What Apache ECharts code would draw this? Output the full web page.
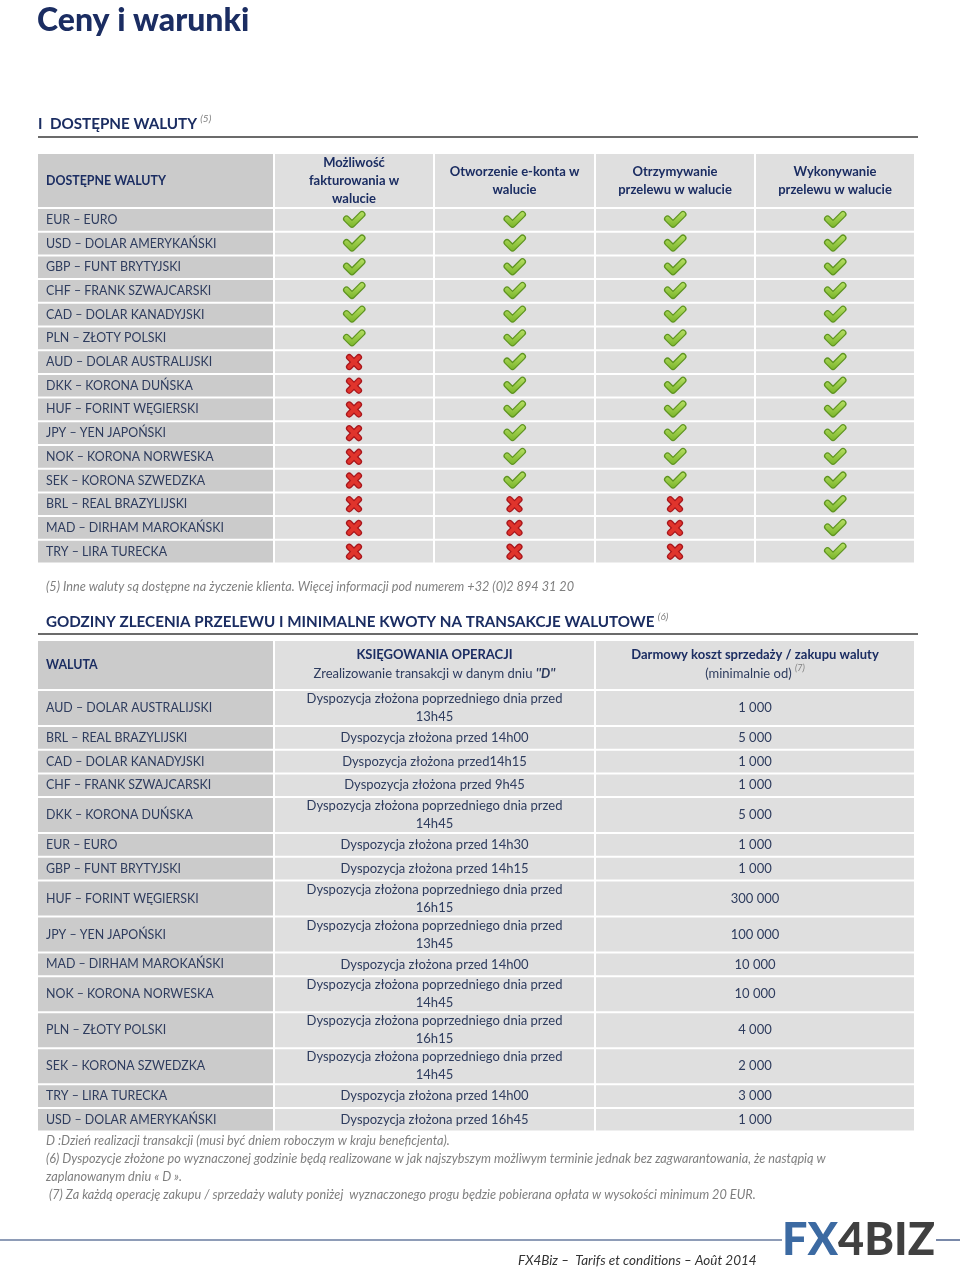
<!DOCTYPE html>
<html><head><meta charset="utf-8">
<script src="https://cdn.jsdelivr.net/npm/echarts@6.0.0/dist/echarts.min.js"></script>
<style>html,body{margin:0;padding:0;background:#fff}#c{width:960px;height:1270px}</style>
</head><body><div id="c"></div>
<script>
// ================= DATA =================
const TABLE1_HEADERS = ['DOSTĘPNE WALUTY', 'Możliwość\nfakturowania w\nwalucie', 'Otworzenie e-konta w\nwalucie', 'Otrzymywanie\nprzelewu w walucie', 'Wykonywanie\nprzelewu w walucie'];
const CURRENCIES_1 = ['EUR – EURO', 'USD – DOLAR AMERYKAŃSKI', 'GBP – FUNT BRYTYJSKI', 'CHF – FRANK SZWAJCARSKI', 'CAD – DOLAR KANADYJSKI', 'PLN – ZŁOTY POLSKI', 'AUD – DOLAR AUSTRALIJSKI', 'DKK – KORONA DUŃSKA', 'HUF – FORINT WĘGIERSKI', 'JPY – YEN JAPOŃSKI', 'NOK – KORONA NORWESKA', 'SEK – KORONA SZWEDZKA', 'BRL – REAL BRAZYLIJSKI', 'MAD – DIRHAM MAROKAŃSKI', 'TRY – LIRA TURECKA'];
const INVOICING = [1, 1, 1, 1, 1, 1, 0, 0, 0, 0, 0, 0, 0, 0, 0];
const E_ACCOUNT = [1, 1, 1, 1, 1, 1, 1, 1, 1, 1, 1, 1, 0, 0, 0];
const RECEIVING = [1, 1, 1, 1, 1, 1, 1, 1, 1, 1, 1, 1, 0, 0, 0];
const SENDING   = [1, 1, 1, 1, 1, 1, 1, 1, 1, 1, 1, 1, 1, 1, 1];

const TABLE2_TITLES = ['WALUTA', 'KSIĘGOWANIA OPERACJI', 'Darmowy koszt sprzedaży / zakupu waluty'];
const TABLE2_SUBTITLES = ['', 'Zrealizowanie transakcji w danym dniu ', '(minimalnie od) '];
const TABLE2_MARKS = ['', "''D''", '(7)'];
const CURRENCIES_2 = ['AUD – DOLAR AUSTRALIJSKI', 'BRL – REAL BRAZYLIJSKI', 'CAD – DOLAR KANADYJSKI', 'CHF – FRANK SZWAJCARSKI', 'DKK – KORONA DUŃSKA', 'EUR – EURO', 'GBP – FUNT BRYTYJSKI', 'HUF – FORINT WĘGIERSKI', 'JPY – YEN JAPOŃSKI', 'MAD – DIRHAM MAROKAŃSKI', 'NOK – KORONA NORWESKA', 'PLN – ZŁOTY POLSKI', 'SEK – KORONA SZWEDZKA', 'TRY – LIRA TURECKA', 'USD – DOLAR AMERYKAŃSKI'];
const CUTOFFS = [
  'Dyspozycja złożona poprzedniego dnia przed 13h45',
  'Dyspozycja złożona przed 14h00',
  'Dyspozycja złożona przed14h15',
  'Dyspozycja złożona przed 9h45',
  'Dyspozycja złożona poprzedniego dnia przed 14h45',
  'Dyspozycja złożona przed 14h30',
  'Dyspozycja złożona przed 14h15',
  'Dyspozycja złożona poprzedniego dnia przed 16h15',
  'Dyspozycja złożona poprzedniego dnia przed 13h45',
  'Dyspozycja złożona przed 14h00',
  'Dyspozycja złożona poprzedniego dnia przed 14h45',
  'Dyspozycja złożona poprzedniego dnia przed 16h15',
  'Dyspozycja złożona poprzedniego dnia przed 14h45',
  'Dyspozycja złożona przed 14h00',
  'Dyspozycja złożona przed 16h45'
];
const MIN_AMOUNTS = [1000, 5000, 1000, 1000, 5000, 1000, 1000, 300000, 100000, 10000, 10000, 4000, 2000, 3000, 1000];

const TITLE = 'Ceny i warunki';
const SECTION1 = 'I  DOSTĘPNE WALUTY';
const SECTION2 = 'GODZINY ZLECENIA PRZELEWU I MINIMALNE KWOTY NA TRANSAKCJE WALUTOWE';
const NOTE5 = '(5) Inne waluty są dostępne na życzenie klienta. Więcej informacji pod numerem +32 (0)2 894 31 20';
const NOTE_D = 'D :Dzień realizacji transakcji (musi być dniem roboczym w kraju beneficjenta).';
const NOTE6a = '(6) Dyspozycje złożone po wyznaczonej godzinie będą realizowane w jak najszybszym możliwym terminie jednak bez zagwarantowania, że nastąpią w';
const NOTE6b = 'zaplanowanym dniu « D ».';
const NOTE7 = ' (7) Za każdą operację zakupu / sprzedaży waluty poniżej  wyznaczonego progu będzie pobierana opłata w wysokości minimum 20 EUR.';
const FOOTER = 'FX4Biz –  Tarifs et conditions – Août 2014';

// ================= LAYOUT / STYLE =================
const FONT = 'Lato, "Open Sans", sans-serif';
const NAVY = '#1b2d62';
const BODY = '#2e3c5e';
const NOTE = '#7f7f7f';
const COL0_BG = '#cbcbcb';
const CELL_BG = '#dfdfdf';
const GAP = 2;
const LEFT = 38;
const T1_TOP = 154, T2_TOP = 641;
const T1_EDGES = [0, 237, 397, 558, 718, 878];
const T2_EDGES = [0, 237, 558, 878];
const T1_HEAD_H = 55, T2_HEAD_H = 50, ROW_H = 23.7, ROW_H2 = 36;
const FS = 13, FS_NAME = 12.4, LH = 18, FS_NOTE = 12.7, FS_SECTION = 15.2;

const mctx = document.createElement('canvas').getContext('2d');
mctx.font = FS + 'px ' + FONT;
function wrapCutoff(t) {
  const maxW = (T2_EDGES[2] - T2_EDGES[1]) - 40;
  if (mctx.measureText(t).width <= maxW) return t;
  const i = t.lastIndexOf(' ');
  return t.slice(0, i) + '\n' + t.slice(i + 1);
}
function fmtAmount(v) { return String(v).replace(/\B(?=(\d{3})+(?!\d))/g, ' '); }

// ---- table 1 cells ----
const FLAGS = [INVOICING, E_ACCOUNT, RECEIVING, SENDING];
const cells1 = [];
TABLE1_HEADERS.forEach((h, c) => cells1.push({ c, r: 0, kind: 'head', text: h }));
CURRENCIES_1.forEach((name, i) => {
  cells1.push({ c: 0, r: i + 1, kind: 'name', text: name });
  FLAGS.forEach((f, k) => cells1.push({ c: k + 1, r: i + 1, kind: 'flag', ok: !!f[i] }));
});
const tops1 = [0, T1_HEAD_H];
CURRENCIES_1.forEach(() => tops1.push(tops1[tops1.length - 1] + ROW_H));

// ---- table 2 cells ----
const cells2 = [];
cells2.push({ c: 0, r: 0, kind: 'head', text: TABLE2_TITLES[0] });
for (let c = 1; c < 3; c++) cells2.push({ c, r: 0, kind: 'head2', title: TABLE2_TITLES[c], sub: TABLE2_SUBTITLES[c], mark: TABLE2_MARKS[c] });
const tops2 = [0, T2_HEAD_H];
CURRENCIES_2.forEach((name, i) => {
  const txt = wrapCutoff(CUTOFFS[i]);
  const lines = txt.split('\n').length;
  tops2.push(tops2[tops2.length - 1] + (lines > 1 ? ROW_H2 : ROW_H));
  cells2.push({ c: 0, r: i + 1, kind: 'name', text: name });
  cells2.push({ c: 1, r: i + 1, kind: 'center', text: txt });
  cells2.push({ c: 2, r: i + 1, kind: 'center', text: fmtAmount(MIN_AMOUNTS[i]) });
});

function checkIcon(cx, cy) {
  const pts = [[cx - 7.5, cy - 1], [cx - 2, cy + 4.5], [cx + 8, cy - 5.5]];
  return [
    { type: 'polyline', shape: { points: pts }, style: { stroke: '#5e9420', lineWidth: 7, lineCap: 'round', lineJoin: 'round', fill: null } },
    { type: 'polyline', shape: { points: pts }, style: { stroke: new echarts.graphic.LinearGradient(0, 0, 0, 1, [{ offset: 0, color: '#b5de62' }, { offset: 1, color: '#7cb62c' }]), lineWidth: 4.5, lineCap: 'round', lineJoin: 'round', fill: null } }
  ];
}
function crossIcon(cx, cy) {
  const d = 4.8;
  const out = [];
  [['#a8161c', 6.5], ['#e0342c', 4]].forEach(([col, lw]) => {
    out.push({ type: 'line', shape: { x1: cx - d, y1: cy - d, x2: cx + d, y2: cy + d }, style: { stroke: col, lineWidth: lw, lineCap: 'round' } });
    out.push({ type: 'line', shape: { x1: cx - d, y1: cy + d, x2: cx + d, y2: cy - d }, style: { stroke: col, lineWidth: lw, lineCap: 'round' } });
  });
  return out;
}

function makeRender(cells, edges, tops) {
  return function (params, api) {
    const cell = cells[params.dataIndex];
    const c = api.value(0), r = api.value(1);
    const a = api.coord([edges[c], tops[r]]);
    const b = api.coord([edges[c + 1] - GAP, tops[r + 1] - GAP]);
    const x = a[0], y = a[1], w = b[0] - a[0], h = b[1] - a[1];
    const cx = x + w / 2, cy = y + h / 2;
    const children = [{ type: 'rect', shape: { x, y, width: w, height: h }, style: { fill: c === 0 ? COL0_BG : CELL_BG } }];
    if (cell.kind === 'head') {
      const left = c === 0;
      children.push({ type: 'text', style: { x: left ? x + 8 : cx, y: cy, text: cell.text, fill: NAVY, fontFamily: FONT, fontSize: left ? FS_NAME : FS, fontWeight: 'bold', lineHeight: LH, align: left ? 'left' : 'center', verticalAlign: 'middle' } });
    } else if (cell.kind === 'head2') {
      const isSup = cell.mark === '(7)';
      children.push({ type: 'text', style: {
        x: cx, y: cy, align: 'center', verticalAlign: 'middle',
        text: '{t|' + cell.title + '}\n{n|' + cell.sub + '}{' + (isSup ? 's' : 'd') + '|' + cell.mark + '}',
        rich: {
          t: { fontFamily: FONT, fontSize: FS, fontWeight: 'bold', fill: NAVY, lineHeight: LH },
          n: { fontFamily: FONT, fontSize: FS, fill: BODY, lineHeight: LH + 2 },
          d: { fontFamily: FONT, fontSize: FS, fontWeight: 'bold', fontStyle: 'italic', fill: BODY, lineHeight: LH + 2 },
          s: { fontFamily: FONT, fontSize: 9, fontStyle: 'italic', fill: NOTE, lineHeight: 10, verticalAlign: 'top' }
        }
      } });
    } else if (cell.kind === 'name') {
      children.push({ type: 'text', style: { x: x + 8, y: cy, text: cell.text, fill: BODY, fontFamily: FONT, fontSize: FS_NAME, align: 'left', verticalAlign: 'middle' } });
    } else if (cell.kind === 'center') {
      children.push({ type: 'text', style: { x: cx, y: cy, text: cell.text, fill: BODY, fontFamily: FONT, fontSize: FS, lineHeight: LH, align: 'center', verticalAlign: 'middle' } });
    } else if (cell.kind === 'flag') {
      (cell.ok ? checkIcon(cx, cy) : crossIcon(cx, cy)).forEach(e => children.push(e));
    }
    return { type: 'group', children };
  };
}

const H1 = tops1[tops1.length - 1], H2 = tops2[tops2.length - 1];

function txt(x, y, text, opts) {
  return Object.assign({ type: 'text', x, y, silent: true, style: Object.assign({ text, fontFamily: FONT, fontSize: FS_NOTE, fill: NOTE, verticalAlign: 'middle' }, opts || {}) });
}
const sectionRich = {
  m: { fontFamily: FONT, fontSize: FS_SECTION, fontWeight: 'bold', fill: NAVY, lineHeight: 20 },
  s: { fontFamily: FONT, fontSize: 10, fontStyle: 'italic', fill: NOTE, lineHeight: 12, verticalAlign: 'top' }
};

const option = {
  animation: false,
  backgroundColor: '#ffffff',
  grid: [
    { left: LEFT, top: T1_TOP, width: 878, height: H1 },
    { left: LEFT, top: T2_TOP, width: 878, height: H2 }
  ],
  xAxis: [
    { type: 'value', gridIndex: 0, min: 0, max: 878, show: false },
    { type: 'value', gridIndex: 1, min: 0, max: 878, show: false }
  ],
  yAxis: [
    { type: 'value', gridIndex: 0, min: 0, max: H1, inverse: true, show: false },
    { type: 'value', gridIndex: 1, min: 0, max: H2, inverse: true, show: false }
  ],
  series: [
    { type: 'custom', xAxisIndex: 0, yAxisIndex: 0, silent: true, data: cells1.map(d => [d.c, d.r]), renderItem: makeRender(cells1, T1_EDGES, tops1) },
    { type: 'custom', xAxisIndex: 1, yAxisIndex: 1, silent: true, data: cells2.map(d => [d.c, d.r]), renderItem: makeRender(cells2, T2_EDGES, tops2) }
  ],
  graphic: [
    txt(37, 21, TITLE, { fontSize: 32, fontWeight: 900, fill: NAVY }),
    txt(38, 124, '{m|' + SECTION1 + '} {s|(5)}', { rich: sectionRich }),
    { type: 'line', silent: true, shape: { x1: 38, y1: 137, x2: 918, y2: 137 }, style: { stroke: '#3a3a3a', lineWidth: 1.5 } },
    txt(46, 587, NOTE5, { fontStyle: 'italic' }),
    txt(46, 622, '{m|' + SECTION2 + '} {s|(6)}', { rich: sectionRich }),
    { type: 'line', silent: true, shape: { x1: 38, y1: 634, x2: 918, y2: 634 }, style: { stroke: '#3a3a3a', lineWidth: 1.5 } },
    txt(46, 1141, NOTE_D, { fontStyle: 'italic' }),
    txt(46, 1159, NOTE6a, { fontStyle: 'italic' }),
    txt(46, 1177, NOTE6b, { fontStyle: 'italic' }),
    txt(46, 1195, NOTE7, { fontStyle: 'italic' }),
    { type: 'line', silent: true, shape: { x1: 0, y1: 1240, x2: 782, y2: 1240 }, style: { stroke: '#1f3a70', lineWidth: 1.2 } },
    { type: 'line', silent: true, shape: { x1: 936, y1: 1240, x2: 960, y2: 1240 }, style: { stroke: '#1f3a70', lineWidth: 1.2 } },
    txt(782, 1240, '{a|FX}{b|4BIZ}', { rich: {
      a: { fontFamily: FONT, fontSize: 45, fontWeight: 900, fill: '#3c6aa2' },
      b: { fontFamily: FONT, fontSize: 45, fontWeight: 900, fill: '#404040' } } }),
    txt(518, 1261, FOOTER, { fontStyle: 'italic', fontSize: 13.5, fill: '#333333' })
  ]
};
const chart = echarts.init(document.getElementById('c'));
chart.setOption(option);
</script></body></html>
